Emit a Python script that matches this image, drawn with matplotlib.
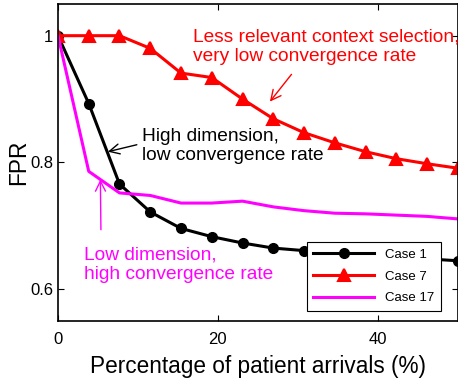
import numpy as np
import matplotlib.pyplot as plt

plt.rcParams['font.family'] = ['Liberation Sans', 'DejaVu Sans']

# percentage of patient arrivals (14 evaluation points)
x = np.linspace(0, 50, 14)

case1 = [1.0, 0.893, 0.766, 0.722, 0.696, 0.683, 0.673, 0.665,
         0.661, 0.657, 0.654, 0.651, 0.648, 0.645]
case7 = [1.0, 1.0, 1.0, 0.98, 0.941, 0.934, 0.900, 0.869,
         0.847, 0.831, 0.817, 0.806, 0.798, 0.791]
case17 = [1.0, 0.786, 0.752, 0.748, 0.736, 0.736, 0.739, 0.730,
          0.724, 0.720, 0.719, 0.717, 0.715, 0.711]

fig = plt.figure(figsize=(4.58, 3.83), dpi=100)
ax = fig.add_axes([0.1266, 0.1619, 0.873, 0.8277])

ax.plot(x, case1, '-o', color='black', lw=2.2, ms=7, label='Case 1')
ax.plot(x, case7, '-^', color='red', lw=2.2, ms=9, mfc='red', mew=1.5,
        label='Case 7')
ax.plot(x, case17, '-', color='magenta', lw=2.2, label='Case 17')

ax.set_xlim(0, 50)
ax.set_ylim(0.55, 1.05)
ax.set_xticks([0, 20, 40])
ax.set_yticks([0.6, 0.8, 1.0])
ax.set_yticklabels(['0.6', '0.8', '1'])
ax.tick_params(direction='in', top=True, right=True, labelsize=12,
               length=4, width=0.8)
ax.tick_params(axis='x', pad=8)
for sp in ax.spines.values():
    sp.set_linewidth(1.2)

ax.set_xlabel('Percentage of patient arrivals (%)', fontsize=16.3, labelpad=6)
ax.set_ylabel('FPR', fontsize=16.3, labelpad=0)

arrow = dict(arrowstyle='->', lw=1, mutation_scale=18, shrinkA=0, shrinkB=0)

# annotations: text blocks
ax.text(16.85, 0.983, 'Less relevant context selection,\nvery low convergence rate',
        color='red', fontsize=13.8, ha='left', va='center', linespacing=1.2)
ax.text(10.45, 0.826, 'High dimension,\nlow convergence rate',
        color='black', fontsize=13.8, ha='left', va='center', linespacing=1.2)
ax.text(3.28, 0.639, 'Low dimension,\nhigh convergence rate',
        color='magenta', fontsize=13.8, ha='left', va='center', linespacing=1.2)

# annotations: arrows
ax.annotate('', xy=(26.5, 0.896), xytext=(29.2, 0.939),
            arrowprops=dict(arrow, color='red'))
ax.annotate('', xy=(6.24, 0.817), xytext=(9.86, 0.828),
            arrowprops=dict(arrow, color='black'))
ax.annotate('', xy=(5.3, 0.773), xytext=(5.37, 0.694),
            arrowprops=dict(arrow, color='magenta'))

leg = ax.legend(loc='lower left', bbox_to_anchor=(0.622, 0.032, 0.335, 0.22),
                mode='expand', borderaxespad=0, fontsize=9.5, frameon=True,
                fancybox=False, edgecolor='black', framealpha=1,
                handlelength=4.6, borderpad=0.5, labelspacing=0.72)
leg.get_frame().set_linewidth(0.8)

fig.savefig('out.png', dpi=100)
